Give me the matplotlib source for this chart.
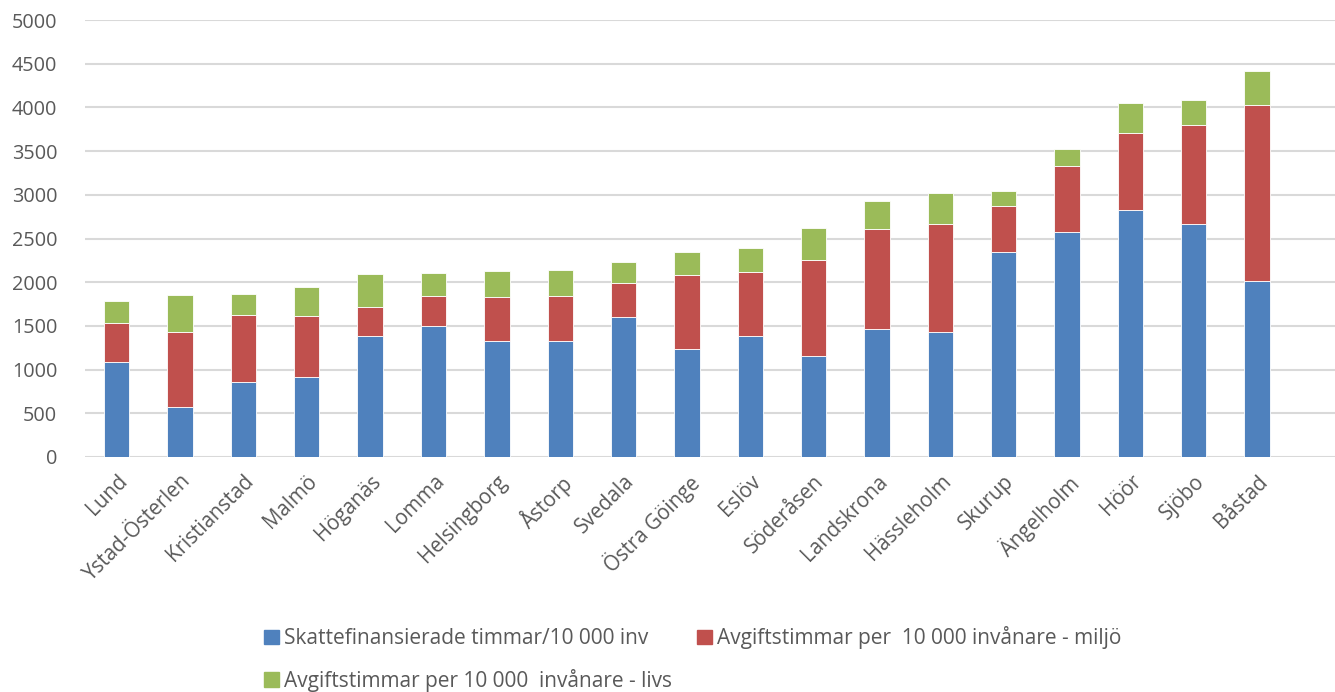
import numpy as np
from matplotlib import pyplot as plt
from matplotlib.patches import Patch

kommuner = ['Lund', 'Ystad-Österlen', 'Kristianstad', 'Malmö', 'Höganäs', 'Lomma',
            'Helsingborg', 'Åstorp', 'Svedala', 'Östra Göinge', 'Eslöv', 'Söderåsen',
            'Landskrona', 'Hässleholm', 'Skurup', 'Ängelholm', 'Höör', 'Sjöbo', 'Båstad']
skatt = [1087, 572, 861, 915, 1380, 1494, 1323, 1327, 1601, 1239, 1388, 1155,
         1464, 1430, 2349, 2574, 2829, 2669, 2017]
miljo = [442, 854, 759, 694, 332, 344, 503, 511, 385, 846, 724, 1094,
         1148, 1231, 522, 758, 884, 1125, 2010]
livs = [259, 431, 248, 332, 385, 263, 302, 301, 245, 260, 279, 374,
        312, 355, 175, 192, 337, 290, 389]

namn = ['Skattefinansierade timmar/10 000 inv',
        'Avgiftstimmar per  10 000 invånare - miljö',
        'Avgiftstimmar per 10 000  invånare - livs']
farger = ['#4F81BD', '#C0504D', '#9BBB59']

plt.rcParams['font.family'] = ['Open Sans', 'DejaVu Sans']
grey = '#595959'

fig = plt.figure(figsize=(13.35, 6.92), dpi=100)
ax = fig.add_axes([0.0637, 0.3396, 0.9363, 0.6314])

x = np.arange(len(kommuner))
w = 0.40
botten = np.zeros(len(kommuner))
for vals, c in zip([skatt, miljo, livs], farger):
    ax.bar(x, vals, w, bottom=botten, color=c, edgecolor='white', linewidth=0.6, zorder=3)
    botten += np.array(vals)

ax.set_ylim(0, 5000)
ax.set_yticks(range(0, 5001, 500))
ax.set_xlim(-0.5, 19.23)
ax.set_xticks(x)
ax.set_xticklabels(kommuner, rotation=45, ha='right', rotation_mode='anchor')
ax.tick_params(axis='both', length=0, labelcolor=grey)
ax.tick_params(axis='x', pad=10, labelsize=14.8)
ax.tick_params(axis='y', pad=20, labelsize=14.3)
ax.grid(axis='y', color='#d9d9d9', linewidth=1.5, zorder=0)
for s in ax.spines.values():
    s.set_visible(False)

handles = [Patch(color=c) for c in farger]
order = [0, 2, 1]
fig.legend([handles[i] for i in order], [namn[i] for i in order],
           ncol=2, loc='lower left', bbox_to_anchor=(0.184, -0.027),
           frameon=False, fontsize=15, labelcolor=grey,
           handlelength=0.7, handleheight=0.7, handletextpad=0.25,
           columnspacing=1.2, labelspacing=0.95)

fig.savefig('out.png', dpi=100)
